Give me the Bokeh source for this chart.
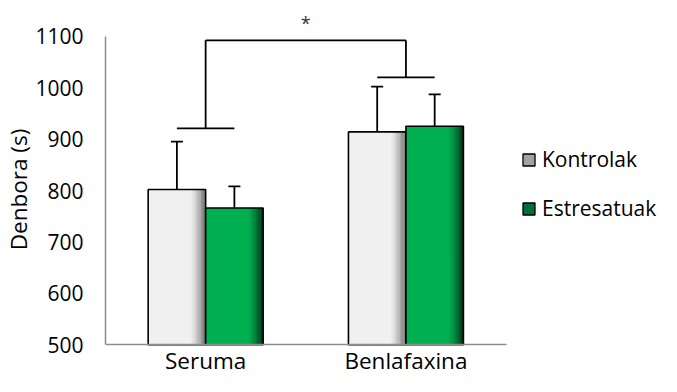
from bokeh.plotting import figure
from bokeh.models import Range1d, FixedTicker, Legend, LegendItem
from bokeh.core.properties import value
from bokeh.embed import file_html
from bokeh.resources import INLINE

# ---- data ----
categories = ["Seruma", "Benlafaxina"]
series_names = ["Kontrolak", "Estresatuak"]
kontrolak = [802, 914]
estresatuak = [766, 925]
kontrolak_err = [93, 88]
estresatuak_err = [42, 62]
bracket_low = [921, 1020]
bracket_top = 1092
sig_mark = "*"
y_ticks = [500, 600, 700, 800, 900, 1000, 1100]

FONT = "Open Sans"
BAR_W = 0.287
OFF = 0.1435

# frame spans the plot area plus the legend area on the right
p = figure(width=661, height=376, output_backend="svg", toolbar_location=None,
           x_range=Range1d(0, 2.776), y_range=Range1d(438.4, 1165.6),
           min_border_left=102, min_border_right=0, min_border_top=2,
           min_border_bottom=0)
p.outline_line_color = None
p.grid.visible = False
p.background_fill_color = "white"

centers = [i + 0.5 for i in range(len(categories))]

def hex_mix(c1, c2, t):
    a = [int(c1[i:i + 2], 16) for i in (1, 3, 5)]
    b = [int(c2[i:i + 2], 16) for i in (1, 3, 5)]
    return "#%02x%02x%02x" % tuple(round(a[k] + (b[k] - a[k]) * t) for k in range(3))

def draw_series(vals, errs, offset, base, dark, legend_color):
    xs = [c + offset for c in centers]
    p.vbar(x=xs, top=vals, bottom=500, width=BAR_W, fill_color=base, line_color=None)
    n = 12
    gw = 0.075
    for k in range(n):
        t = (k + 1) / n
        sx = [x + BAR_W / 2 - gw + gw * (k + 0.5) / n for x in xs]
        p.vbar(x=sx, top=vals, bottom=500, width=gw / n + 0.001,
               fill_color=hex_mix(base, dark, t ** 1.4), line_color=None)
    p.vbar(x=xs, top=vals, bottom=500, width=BAR_W, fill_color=None,
           line_color="black", line_width=1.6)
    tops = [v + e for v, e in zip(vals, errs)]
    p.segment(x0=xs, y0=vals, x1=xs, y1=tops, line_color="black", line_width=1.8)
    p.segment(x0=[x - 0.03 for x in xs], y0=tops, x1=[x + 0.03 for x in xs], y1=tops,
              line_color="black", line_width=1.8)
    # hidden renderer only used for the legend swatch
    return p.vbar(x=xs, top=vals, bottom=500, width=BAR_W, fill_color=legend_color,
                  line_color="black", line_width=1.3, visible=False)

r1 = draw_series(kontrolak, kontrolak_err, -OFF, "#f0f0f0", "#707070", "#a3a3a3")
r2 = draw_series(estresatuak, estresatuak_err, OFF, "#00b050", "#00301a", "#00703a")

# significance brackets
p.segment(x0=[c - OFF for c in centers], y0=bracket_low,
          x1=[c + OFF for c in centers], y1=bracket_low, line_color="black", line_width=1.8)
p.segment(x0=centers, y0=bracket_low, x1=centers, y1=[bracket_top] * len(centers),
          line_color="black", line_width=1.8)
p.segment(x0=[centers[0]], y0=[bracket_top], x1=[centers[-1]], y1=[bracket_top],
          line_color="black", line_width=1.8)
p.text(x=[sum(centers) / len(centers)], y=[1126], text=[sig_mark],
       text_font=value(FONT), text_font_size="18px", text_align="center",
       text_baseline="middle", text_color="#333333")

legend = Legend(items=[LegendItem(label=series_names[0], renderers=[r1]),
                       LegendItem(label=series_names[1], renderers=[r2])],
                location=(416, 154), orientation="vertical",
                glyph_width=15, glyph_height=15, label_standoff=6,
                label_text_font=FONT, label_text_font_size="21px",
                label_text_color="black", border_line_color=None,
                background_fill_alpha=0, padding=0, margin=0, spacing=21,
                inactive_fill_alpha=0)
p.add_layout(legend)

# axes
p.xaxis.fixed_location = 500
p.xaxis.bounds = (0, 2)
p.xaxis.ticker = FixedTicker(ticks=centers)
p.xaxis.major_label_overrides = {c: n for c, n in zip(centers, categories)}
p.yaxis.ticker = FixedTicker(ticks=y_ticks)
p.yaxis.bounds = (500, 1100)
for ax in (p.xaxis[0], p.yaxis[0]):
    ax.axis_line_color = "#8c8c8c"
    ax.axis_line_width = 1.5
    ax.major_tick_line_color = None
    ax.minor_tick_line_color = None
    ax.major_tick_out = 0
    ax.major_tick_in = 0
    ax.minor_tick_out = 0
    ax.minor_tick_in = 0
    ax.major_label_text_font = FONT
    ax.major_label_text_color = "black"
p.xaxis.major_label_text_font_size = "22.5px"
p.xaxis.major_label_standoff = 0
p.yaxis.major_label_text_font_size = "21px"
p.yaxis.major_label_standoff = 22
p.yaxis.axis_label = "Denbora (s)"
p.yaxis.axis_label_text_font = FONT
p.yaxis.axis_label_text_font_size = "22.5px"
p.yaxis.axis_label_text_font_style = "normal"
p.yaxis.axis_label_text_color = "black"
p.yaxis.axis_label_standoff = -2

open("out.html", "w").write(file_html(p, INLINE))
